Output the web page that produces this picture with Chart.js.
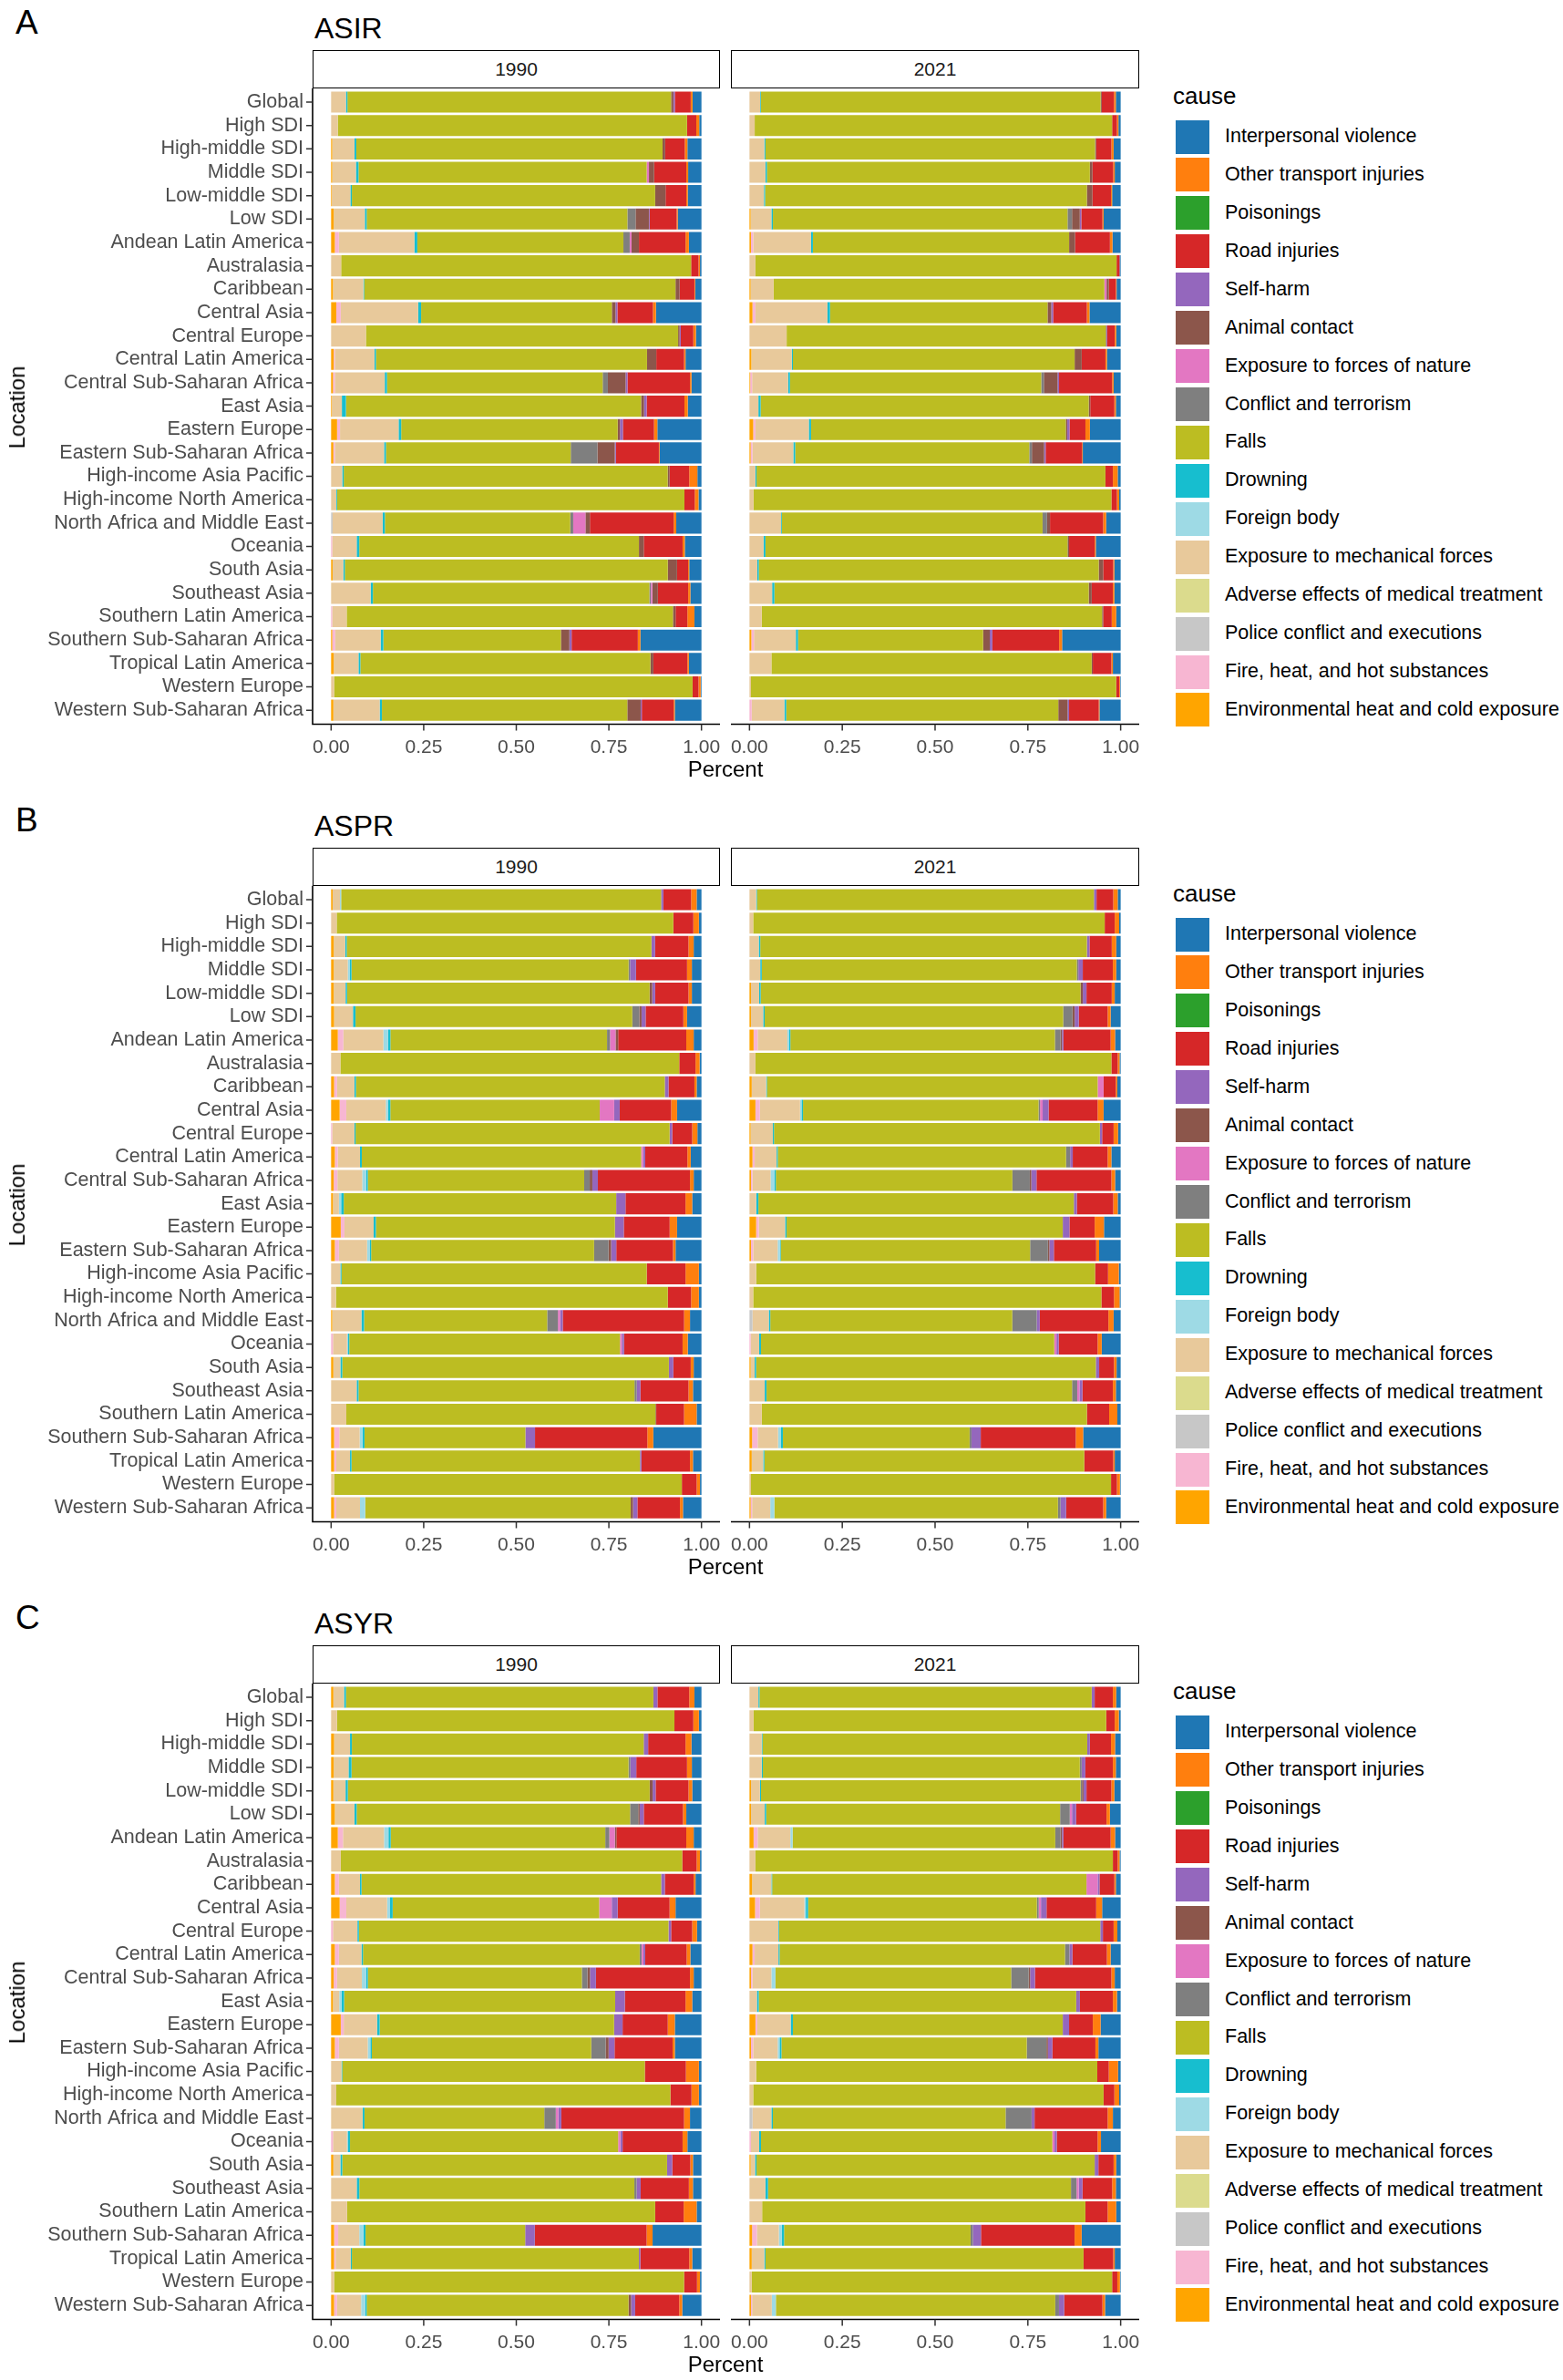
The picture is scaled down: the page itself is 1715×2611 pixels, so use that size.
<!DOCTYPE html>
<html>
<head>
<meta charset="utf-8">
<script src="https://cdn.jsdelivr.net/npm/chart.js@4.4.1/dist/chart.umd.min.js"></script>
<style>
  body { margin: 0; background: #fff; font-family: "Liberation Sans", Arial, sans-serif; }
  #figure { position: relative; width: 1715px; height: 2611px; overflow: hidden; background: #fff; }
  .abs { position: absolute; }
  .tag { font-size: 37px; line-height: 1; color: #000; }
  .title { font-size: 32px; line-height: 1; color: #000; }
  .strip { border: 1.6px solid #000; box-sizing: border-box; background: #fff;
           display: flex; align-items: center; justify-content: center; font-size: 21px; color: #1a1a1a; }
  .axis-title { font-size: 24px; line-height: 1; color: #000; white-space: nowrap; }
  .legend-title { font-size: 26px; line-height: 1; color: #000; }
  .key { width: 37px; height: 37px; }
  .key-label { font-size: 21.5px; line-height: 1; color: #000; white-space: nowrap; }
</style>
</head>
<body>
<div id="figure"></div>
<script>
const FONT = '"Liberation Sans", Arial, sans-serif';

// legend order (top to bottom); bars stack in the reverse order, left to right
const causes = [
    'Interpersonal violence',
    'Other transport injuries',
    'Poisonings',
    'Road injuries',
    'Self-harm',
    'Animal contact',
    'Exposure to forces of nature',
    'Conflict and terrorism',
    'Falls',
    'Drowning',
    'Foreign body',
    'Exposure to mechanical forces',
    'Adverse effects of medical treatment',
    'Police conflict and executions',
    'Fire, heat, and hot substances',
    'Environmental heat and cold exposure'
];
const causeColors = [
    '#1F77B4', '#FF7F0E', '#2CA02C', '#D62728', '#9467BD', '#8C564B', '#E377C2', '#7F7F7F',
    '#BCBD22', '#17BECF', '#9EDAE5', '#E8C99B', '#DBDB8D', '#C7C7C7', '#F7B6D2', '#FFA500'
];

const locations = [
    'Global', 'High SDI', 'High-middle SDI', 'Middle SDI', 'Low-middle SDI', 'Low SDI',
    'Andean Latin America', 'Australasia', 'Caribbean', 'Central Asia', 'Central Europe',
    'Central Latin America', 'Central Sub-Saharan Africa', 'East Asia', 'Eastern Europe',
    'Eastern Sub-Saharan Africa', 'High-income Asia Pacific', 'High-income North America',
    'North Africa and Middle East', 'Oceania', 'South Asia', 'Southeast Asia',
    'Southern Latin America', 'Southern Sub-Saharan Africa', 'Tropical Latin America',
    'Western Europe', 'Western Sub-Saharan Africa'
];

const years = ['1990', '2021'];
const panelTags = ['A', 'B', 'C'];
const panelTitles = ['ASIR', 'ASPR', 'ASYR'];
const xTicks = [0, 0.25, 0.5, 0.75, 1];

// one row per location; columns from the left end of the bar:
// env heat, fire, police, adverse, mechanical, foreign body, drowning, falls,
// conflict, nature, animal, self-harm, road, poisonings, other transport, interpersonal
const asir1990 = [
    [0, 0, 0, 0, .040, 0, .004, .874, 0, 0, .006, .004, .043, 0, .005, .024],
    [0, 0, 0, 0, .018, 0, 0, .943, 0, 0, 0, 0, .025, 0, .008, .006],
    [.003, 0, 0, 0, .060, 0, .005, .827, 0, 0, .007, 0, .053, 0, .007, .038],
    [.003, 0, 0, 0, .064, 0, .007, .779, 0, .006, .014, 0, .087, 0, .005, .036],
    [.002, 0, 0, 0, .050, 0, .004, .819, 0, 0, .028, 0, .056, 0, .004, .037],
    [.007, 0, 0, 0, .084, 0, .005, .704, .022, 0, .036, .002, .073, 0, .003, .064],
    [.010, .011, 0, 0, .204, 0, .008, .557, .017, .005, .020, 0, .126, 0, .009, .034],
    [0, 0, 0, 0, .027, 0, 0, .945, 0, 0, 0, 0, .020, 0, .004, .004],
    [.005, 0, 0, 0, .082, 0, .002, .840, 0, 0, .011, 0, .040, 0, .002, .017],
    [.014, .012, 0, 0, .209, 0, .008, .515, 0, 0, .010, .005, .096, 0, .008, .123],
    [0, 0, 0, 0, .094, 0, 0, .843, 0, 0, .004, .003, .034, 0, .007, .015],
    [.007, .003, 0, 0, .107, 0, .004, .732, 0, 0, .025, 0, .075, 0, .004, .043],
    [.005, .005, 0, 0, .135, 0, .006, .583, .014, 0, .048, .005, .169, 0, .004, .027],
    [.002, 0, 0, 0, .027, 0, .011, .797, 0, 0, .008, .007, .102, 0, .009, .037],
    [.016, .008, 0, 0, .158, 0, .007, .584, 0, 0, .006, .008, .084, 0, .009, .119],
    [.006, .004, 0, 0, .133, 0, .005, .499, .072, 0, .047, .003, .116, 0, .002, .113],
    [0, 0, 0, 0, .030, 0, .004, .874, 0, 0, .005, 0, .053, 0, .022, .011],
    [0, 0, 0, 0, .014, 0, .002, .938, 0, 0, 0, 0, .028, 0, .010, .008],
    [0, 0, .004, 0, .135, 0, .006, .500, .008, .033, .012, 0, .226, 0, .007, .068],
    [0, .003, 0, 0, .066, 0, .007, .756, 0, 0, .013, 0, .105, 0, .006, .045],
    [.004, 0, 0, 0, .029, 0, .004, .873, 0, 0, .025, 0, .030, 0, .003, .033],
    [0, 0, 0, 0, .107, 0, .006, .748, .004, .004, .015, 0, .082, 0, .006, .030],
    [0, .003, 0, 0, .039, 0, 0, .881, 0, 0, .007, 0, .032, 0, .019, .019],
    [.003, .008, 0, 0, .123, 0, .007, .480, 0, 0, .023, .006, .179, 0, .007, .165],
    [.007, 0, 0, 0, .067, 0, .005, .784, 0, 0, .008, 0, .092, 0, .004, .034],
    [0, 0, 0, 0, .008, 0, 0, .967, 0, 0, 0, 0, .016, 0, .006, .002],
    [.006, 0, 0, 0, .125, 0, .006, .662, 0, 0, .036, .003, .086, 0, .003, .072]
];
const asir2021 = [
    [0, 0, 0, 0, .029, 0, .002, .915, 0, 0, .003, 0, .033, 0, .005, .013],
    [0, 0, 0, 0, .014, 0, 0, .963, 0, 0, 0, 0, .013, 0, .004, .006],
    [0, 0, 0, 0, .040, 0, .003, .888, 0, 0, .003, 0, .041, 0, .006, .019],
    [0, 0, 0, 0, .043, 0, .004, .870, 0, 0, .007, 0, .056, 0, .004, .016],
    [0, 0, 0, 0, .039, 0, .003, .866, 0, 0, .015, 0, .050, 0, .003, .023],
    [.003, 0, 0, 0, .056, 0, .004, .793, .012, 0, .021, .004, .057, 0, .003, .046],
    [.004, .006, 0, 0, .156, 0, .005, .691, 0, 0, .016, 0, .094, 0, .007, .022],
    [0, 0, 0, 0, .016, 0, 0, .973, 0, 0, 0, 0, .008, 0, 0, .003],
    [.003, 0, 0, 0, .062, 0, 0, .892, 0, .006, .006, 0, .019, 0, .002, .011],
    [.008, .008, 0, 0, .194, 0, .007, .586, 0, 0, .010, .005, .091, 0, .007, .084],
    [0, 0, 0, 0, .100, 0, 0, .859, 0, 0, .002, .002, .020, 0, .004, .012],
    [.005, 0, 0, 0, .109, 0, .003, .759, 0, 0, .019, 0, .064, 0, .004, .037],
    [.002, .005, 0, 0, .097, 0, .005, .677, .007, 0, .037, .004, .143, 0, .004, .019],
    [0, 0, 0, 0, .024, 0, .006, .884, 0, 0, .004, 0, .065, 0, .004, .013],
    [.010, .006, 0, 0, .144, 0, .006, .687, 0, 0, .004, .006, .043, 0, .012, .083],
    [.003, .005, 0, 0, .110, 0, .005, .630, .007, 0, .033, .004, .098, 0, .002, .102],
    [0, 0, 0, 0, .016, 0, .003, .939, 0, 0, 0, 0, .020, 0, .013, .008],
    [0, 0, 0, 0, .011, 0, 0, .964, 0, 0, 0, 0, .015, 0, .006, .004],
    [0, 0, 0, 0, .085, 0, .002, .701, .012, 0, .008, 0, .143, 0, .008, .039],
    [0, 0, 0, 0, .038, 0, .005, .814, 0, 0, .004, 0, .069, 0, .003, .067],
    [0, 0, 0, 0, .021, 0, .004, .915, 0, 0, .012, 0, .027, 0, .003, .017],
    [0, 0, 0, 0, .061, 0, .006, .847, 0, 0, .008, 0, .057, 0, .004, .017],
    [0, 0, 0, 0, .033, 0, 0, .916, 0, 0, .003, 0, .023, 0, .012, .012],
    [.005, .007, 0, 0, .113, 0, .006, .499, 0, 0, .018, .007, .180, 0, .008, .158],
    [0, 0, 0, 0, .059, 0, 0, .862, 0, 0, .003, 0, .050, 0, .004, .021],
    [0, 0, 0, 0, .004, 0, 0, .983, 0, 0, 0, 0, .008, 0, .002, .002],
    [0, .006, 0, 0, .088, 0, .005, .733, 0, 0, .025, .004, .080, 0, .002, .057]
];
const aspr1990 = [
    [.004, 0, 0, 0, .020, .003, 0, .864, 0, 0, 0, .006, .075, 0, .015, .013],
    [0, 0, 0, 0, .015, 0, 0, .909, 0, 0, 0, 0, .054, 0, .015, .007],
    [.007, 0, 0, 0, .031, 0, .004, .822, 0, 0, 0, .010, .090, 0, .014, .021],
    [.007, 0, 0, 0, .038, .005, .005, .749, .004, 0, 0, .016, .138, 0, .013, .026],
    [.007, 0, 0, 0, .032, 0, .004, .817, 0, 0, .007, .008, .090, 0, .009, .026],
    [.008, 0, 0, 0, .051, 0, .007, .748, .019, 0, .006, .011, .102, 0, .010, .039],
    [.018, .015, 0, 0, .108, .013, .006, .585, .008, .015, .007, 0, .184, 0, .020, .021],
    [0, 0, 0, 0, .025, 0, 0, .915, 0, 0, 0, 0, .044, 0, .011, .005],
    [.008, .008, 0, 0, .047, 0, .004, .834, 0, 0, 0, .010, .070, 0, .006, .013],
    [.023, .018, 0, 0, .107, .006, .006, .566, 0, .039, 0, .015, .139, 0, .016, .066],
    [0, .003, 0, 0, .060, 0, .003, .848, 0, 0, 0, .007, .054, 0, .014, .011],
    [.010, .008, 0, 0, .060, 0, .005, .755, 0, .005, 0, .006, .114, 0, .009, .029],
    [.007, .010, 0, 0, .067, .011, .004, .585, .015, 0, .007, .015, .249, 0, .010, .021],
    [.005, 0, 0, 0, .016, .006, .007, .735, 0, 0, 0, .025, .162, 0, .018, .025],
    [.026, .010, 0, 0, .079, 0, .006, .646, 0, 0, 0, .024, .124, 0, .020, .066],
    [.010, .011, 0, 0, .076, .008, .003, .602, .039, 0, .007, .014, .153, 0, .007, .070],
    [0, 0, 0, 0, .025, 0, .003, .825, 0, 0, 0, 0, .105, 0, .036, .007],
    [0, 0, 0, 0, .013, 0, 0, .896, 0, 0, 0, 0, .063, 0, .021, .007],
    [.003, 0, 0, 0, .079, 0, .007, .495, .029, .006, 0, .007, .328, 0, .016, .031],
    [0, .005, 0, 0, .038, .003, .003, .731, 0, .005, 0, .006, .158, 0, .014, .037],
    [.006, 0, 0, 0, .019, 0, .005, .882, 0, 0, 0, .012, .047, 0, .008, .021],
    [0, 0, 0, 0, .069, 0, .005, .746, .006, 0, 0, .010, .130, 0, .012, .023],
    [0, 0, 0, 0, .041, 0, 0, .834, 0, 0, .002, 0, .075, 0, .034, .013],
    [.008, .014, 0, 0, .055, .008, .005, .434, 0, 0, 0, .026, .303, 0, .016, .130],
    [.008, .006, 0, 0, .037, 0, .004, .779, 0, 0, 0, .004, .131, 0, .008, .023],
    [0, 0, 0, 0, .008, 0, 0, .939, 0, 0, 0, 0, .040, 0, .009, .004],
    [.008, .006, 0, 0, .064, .014, 0, .717, 0, 0, .006, .012, .115, 0, .008, .050]
];
const aspr2021 = [
    [0, 0, 0, 0, .018, 0, .002, .907, 0, 0, 0, .007, .045, 0, .012, .008],
    [0, 0, 0, 0, .010, 0, 0, .947, 0, 0, 0, 0, .027, 0, .012, .004],
    [0, 0, 0, 0, .025, 0, .004, .880, 0, 0, 0, .007, .060, 0, .012, .012],
    [0, 0, 0, 0, .029, 0, .004, .848, .004, 0, 0, .012, .081, 0, .009, .012],
    [.004, 0, 0, 0, .022, 0, .004, .861, 0, 0, .006, .010, .068, 0, .008, .016],
    [.004, 0, 0, 0, .033, 0, .004, .805, .025, 0, .006, .011, .078, 0, .008, .027],
    [.011, .011, 0, 0, .080, .004, .004, .712, .015, 0, .004, .004, .127, 0, .012, .015],
    [0, 0, 0, 0, .016, 0, 0, .958, 0, 0, 0, 0, .017, 0, .005, .003],
    [.006, 0, 0, 0, .039, 0, .002, .892, 0, .016, 0, 0, .033, 0, .004, .009],
    [.016, .012, 0, 0, .108, .004, .004, .634, .004, .007, 0, .016, .132, 0, .016, .046],
    [.003, 0, 0, 0, .060, 0, .003, .878, 0, 0, 0, .006, .031, 0, .012, .007],
    [.008, .006, 0, 0, .059, 0, .003, .776, .011, 0, 0, .007, .094, 0, .010, .025],
    [.004, .004, 0, 0, .049, .010, .004, .638, .047, 0, .004, .014, .202, 0, .010, .015],
    [0, 0, 0, 0, .018, 0, .006, .849, 0, 0, 0, .008, .098, 0, .012, .008],
    [.018, .007, 0, 0, .071, 0, .004, .744, 0, 0, 0, .018, .068, 0, .025, .045],
    [.004, .006, 0, 0, .066, .006, .002, .672, .048, 0, .004, .012, .114, 0, .008, .058],
    [0, 0, 0, 0, .018, 0, 0, .913, 0, 0, 0, 0, .035, 0, .029, .005],
    [0, 0, 0, 0, .010, 0, 0, .939, 0, 0, 0, 0, .034, 0, .015, .003],
    [0, 0, .008, 0, .044, 0, .004, .652, .066, 0, 0, .008, .185, 0, .014, .019],
    [0, .003, 0, 0, .023, 0, .005, .790, 0, .006, 0, .006, .105, 0, .011, .051],
    [.003, 0, 0, 0, .011, 0, .004, .916, 0, 0, 0, .009, .040, 0, .007, .011],
    [0, 0, 0, 0, .041, 0, .005, .823, .014, .006, 0, .008, .082, 0, .008, .013],
    [0, 0, 0, 0, .033, 0, 0, .876, 0, 0, 0, 0, .060, 0, .022, .009],
    [.007, .015, 0, 0, .055, .008, .005, .503, .005, 0, 0, .025, .256, 0, .020, .101],
    [.006, 0, 0, 0, .031, 0, .003, .861, 0, 0, 0, 0, .078, 0, .004, .016],
    [0, 0, 0, 0, .004, 0, 0, .973, 0, 0, 0, 0, .016, 0, .008, .002],
    [.003, .004, 0, 0, .049, .011, 0, .764, .007, 0, 0, .015, .100, 0, .008, .039]
];
const asyr1990 = [
    [.006, 0, 0, 0, .029, 0, .005, .831, 0, 0, 0, .011, .086, 0, .014, .019],
    [0, 0, 0, 0, .016, 0, 0, .911, 0, 0, 0, 0, .051, 0, .015, .007],
    [.008, 0, 0, 0, .043, 0, .005, .788, 0, 0, 0, .012, .101, 0, .016, .027],
    [.007, 0, 0, 0, .040, 0, .008, .748, .005, 0, 0, .016, .137, 0, .013, .026],
    [.006, 0, 0, 0, .033, 0, .006, .816, 0, 0, .008, .008, .089, 0, .010, .025],
    [.010, 0, 0, 0, .053, 0, .006, .739, .022, 0, .004, .011, .106, 0, .009, .041],
    [.018, .014, 0, 0, .111, .012, .006, .580, .011, .015, .004, 0, .189, 0, .020, .021],
    [0, 0, 0, 0, .026, 0, 0, .922, 0, 0, 0, 0, .039, 0, .009, .004],
    [.010, .011, 0, 0, .057, 0, .004, .809, 0, 0, 0, .010, .078, 0, .005, .016],
    [.023, .018, 0, 0, .110, .008, .007, .557, 0, .034, 0, .016, .140, 0, .016, .070],
    [0, .005, 0, 0, .066, 0, .004, .836, 0, 0, 0, .007, .057, 0, .013, .012],
    [.010, .011, 0, 0, .061, 0, .004, .748, .005, .005, 0, .005, .112, 0, .010, .030],
    [.007, .009, 0, 0, .067, .012, .004, .578, .015, 0, .007, .016, .254, 0, .010, .021],
    [.005, 0, 0, 0, .017, .006, .007, .732, 0, 0, 0, .026, .164, 0, .018, .025],
    [.026, .008, 0, 0, .090, 0, .007, .633, 0, 0, 0, .023, .122, 0, .019, .072],
    [.010, .011, 0, 0, .078, .007, .004, .593, .039, 0, .008, .016, .157, 0, .006, .072],
    [0, 0, 0, 0, .028, 0, .002, .817, 0, 0, 0, 0, .111, 0, .035, .007],
    [0, 0, 0, 0, .014, 0, 0, .903, 0, 0, 0, 0, .057, 0, .020, .007],
    [0, 0, 0, 0, .085, 0, .005, .485, .031, .007, 0, .008, .331, 0, .016, .031],
    [0, .005, 0, 0, .038, .003, .005, .724, 0, .006, 0, .006, .162, 0, .013, .038],
    [.006, 0, 0, 0, .019, 0, .005, .878, 0, 0, 0, .014, .049, 0, .007, .023],
    [0, 0, 0, 0, .069, 0, .007, .742, .006, 0, 0, .011, .130, 0, .011, .023],
    [0, 0, 0, 0, .043, 0, 0, .832, 0, 0, 0, 0, .077, 0, .035, .013],
    [.008, .011, 0, 0, .057, .011, .006, .431, 0, 0, 0, .026, .302, 0, .016, .132],
    [.008, .004, 0, 0, .041, 0, .003, .775, 0, 0, 0, .004, .132, 0, .008, .025],
    [0, 0, 0, 0, .008, 0, 0, .944, 0, 0, 0, 0, .035, 0, .008, .004],
    [.008, .008, 0, 0, .065, .011, .004, .707, 0, 0, .007, .011, .119, 0, .008, .052]
];
const asyr2021 = [
    [0, 0, 0, 0, .024, 0, .003, .894, 0, 0, 0, .008, .049, 0, .009, .012],
    [0, 0, 0, 0, .011, 0, 0, .949, 0, 0, 0, 0, .023, 0, .011, .005],
    [0, 0, 0, 0, .033, 0, .002, .875, 0, 0, 0, .007, .057, 0, .011, .015],
    [0, 0, 0, 0, .033, 0, .003, .853, .005, 0, 0, .010, .074, 0, .008, .013],
    [.004, 0, 0, 0, .024, 0, .003, .860, .004, 0, .004, .008, .067, 0, .008, .017],
    [.004, 0, 0, 0, .037, 0, .004, .791, .026, .006, 0, .011, .082, 0, .009, .029],
    [.011, .011, 0, 0, .088, .006, 0, .707, .014, 0, .004, .004, .127, 0, .012, .015],
    [0, 0, 0, 0, .016, 0, 0, .962, 0, 0, 0, 0, .013, 0, .005, .003],
    [.007, 0, 0, 0, .052, 0, .002, .846, 0, .030, 0, .005, .040, 0, .004, .013],
    [.015, .013, 0, 0, .120, .004, .006, .617, .005, .006, 0, .015, .134, 0, .016, .050],
    [0, 0, 0, 0, .078, 0, .002, .866, 0, 0, 0, .007, .029, 0, .010, .009],
    [.008, .006, 0, 0, .064, 0, .003, .769, .012, 0, 0, .008, .093, 0, .010, .027],
    [.004, .004, 0, 0, .051, .011, 0, .635, .047, 0, .004, .013, .206, 0, .009, .016],
    [0, 0, 0, 0, .020, 0, .005, .857, 0, 0, 0, .010, .089, 0, .011, .010],
    [.016, .005, 0, 0, .090, 0, .006, .727, 0, 0, 0, .017, .064, 0, .021, .054],
    [.004, .006, 0, 0, .066, .005, .005, .661, .053, 0, .004, .012, .116, 0, .008, .060],
    [0, 0, 0, 0, .018, 0, 0, .920, 0, 0, 0, 0, .031, 0, .025, .007],
    [0, 0, 0, 0, .010, 0, 0, .944, 0, 0, 0, 0, .029, 0, .013, .004],
    [0, 0, .008, 0, .051, 0, .004, .627, .070, 0, 0, .008, .197, 0, .014, .021],
    [0, .004, 0, 0, .022, 0, .005, .784, 0, .006, 0, .006, .110, 0, .009, .053],
    [.003, 0, 0, 0, .012, 0, .004, .911, 0, 0, 0, .010, .041, 0, .007, .012],
    [0, 0, 0, 0, .043, 0, .007, .817, .015, .006, 0, .010, .080, 0, .010, .013],
    [0, 0, 0, 0, .034, 0, 0, .870, 0, 0, 0, 0, .060, 0, .023, .012],
    [.007, .013, 0, 0, .059, .008, .006, .502, .006, 0, 0, .022, .252, 0, .019, .105],
    [.006, 0, 0, 0, .034, 0, .003, .857, 0, 0, 0, 0, .080, 0, .004, .016],
    [0, 0, 0, 0, .006, 0, 0, .971, 0, 0, 0, 0, .014, 0, .007, .002],
    [.004, .003, 0, 0, .053, .011, 0, .752, .010, 0, 0, .014, .103, 0, .007, .042]
];

const panelData = [[asir1990, asir2021], [aspr1990, aspr2021], [asyr1990, asyr2021]];

// Layout (pixels, relative to each panel's top)
const PANEL_STEP = 875;
const FACET_LEFT = [0, 802];      // canvas left of each facet
const FACET_WIDTH = [790, 448];
const Y_AXIS_WIDTH = 343;
const CANVAS_TOP = 96;
const CANVAS_HEIGHT = 746;

const fig = document.getElementById('figure');

function addDiv(cls, text, style) {
    const d = document.createElement('div');
    d.className = 'abs ' + cls;
    if (text !== null) d.textContent = text;
    Object.assign(d.style, style);
    fig.appendChild(d);
    return d;
}

// Build stacked datasets, each row normalised to a share of 1
function buildDatasets(rows) {
    const totals = rows.map(r => r.reduce((a, b) => a + b, 0));
    const stackOrder = causes.slice().reverse();
    return stackOrder.map((cause, j) => ({
        label: cause,
        data: rows.map((r, i) => r[j] / totals[i]),
        backgroundColor: causeColors[causes.indexOf(cause)],
        borderWidth: 0,
        barPercentage: 0.9,
        categoryPercentage: 1
    }));
}

// ggplot-style axis lines (panel reaches 0.1 band beyond the outer bars)
function axisLines(showY) {
    return {
        id: 'axisLines',
        afterDraw(chart) {
            const { ctx, chartArea: a, scales } = chart;
            const ext = a.height / locations.length * 0.1;
            const yb = a.bottom + ext;
            ctx.save();
            ctx.strokeStyle = '#000';
            ctx.lineWidth = 1.6;
            ctx.beginPath();
            ctx.moveTo(a.left - (showY ? 0.8 : 0), yb);
            ctx.lineTo(a.right, yb);
            if (showY) {
                ctx.moveTo(a.left, a.top - ext);
                ctx.lineTo(a.left, yb + 0.8);
            }
            ctx.stroke();
            ctx.strokeStyle = '#333';
            ctx.lineWidth = 1.5;
            ctx.beginPath();
            xTicks.forEach(v => {
                const x = scales.x.getPixelForValue(v);
                ctx.moveTo(x, yb);
                ctx.lineTo(x, yb + 7);
            });
            if (showY) {
                locations.forEach((loc, i) => {
                    const y = scales.y.getPixelForValue(i);
                    ctx.moveTo(a.left, y);
                    ctx.lineTo(a.left - 7, y);
                });
            }
            ctx.stroke();
            ctx.restore();
        }
    };
}

function createFacet(rows, top, f) {
    const showY = f === 0;
    const canvas = document.createElement('canvas');
    canvas.className = 'abs';
    canvas.width = FACET_WIDTH[f];
    canvas.height = CANVAS_HEIGHT;
    Object.assign(canvas.style, {
        left: FACET_LEFT[f] + 'px', top: (top + CANVAS_TOP) + 'px',
        width: FACET_WIDTH[f] + 'px', height: CANVAS_HEIGHT + 'px'
    });
    fig.appendChild(canvas);

    new Chart(canvas.getContext('2d'), {
        type: 'bar',
        data: { labels: locations, datasets: buildDatasets(rows) },
        options: {
            indexAxis: 'y',
            responsive: false,
            animation: false,
            devicePixelRatio: 1,
            layout: { padding: { top: 3.2, bottom: 0, left: 0, right: 0 } },
            plugins: { legend: { display: false }, tooltip: { enabled: false } },
            scales: {
                x: {
                    type: 'linear',
                    stacked: true,
                    min: -0.05,
                    max: 1.05,
                    afterBuildTicks: s => { s.ticks = xTicks.map(v => ({ value: v })); },
                    afterFit: s => { s.height = 50; s.paddingLeft = 0; s.paddingRight = 0; },
                    grid: { display: false, drawTicks: false },
                    border: { display: false },
                    ticks: {
                        padding: 16,
                        color: '#4d4d4d',
                        font: { size: 21, family: FONT },
                        maxRotation: 0,
                        autoSkip: false,
                        callback: v => Number(v).toFixed(2)
                    }
                },
                y: {
                    type: 'category',
                    stacked: true,
                    offset: true,
                    display: showY,
                    afterFit: s => {
                        if (showY) s.width = Y_AXIS_WIDTH;
                        s.paddingTop = 0;
                        s.paddingBottom = 0;
                    },
                    grid: { display: false, drawTicks: false },
                    border: { display: false },
                    ticks: {
                        padding: 10,
                        color: '#4d4d4d',
                        font: { size: 21.5, family: FONT },
                        autoSkip: false
                    }
                }
            }
        },
        plugins: [axisLines(showY)]
    });
}

function createPanel(p) {
    const top = p * PANEL_STEP;

    addDiv('tag', panelTags[p], { left: '17px', top: (top + 6) + 'px' });
    addDiv('title', panelTitles[p], { left: '345px', top: (top + 15) + 'px' });

    years.forEach((yr, f) => {
        const panelLeft = f === 0 ? Y_AXIS_WIDTH : FACET_LEFT[f];
        const panelRight = FACET_LEFT[f] + FACET_WIDTH[f];
        addDiv('strip', yr, {
            left: panelLeft + 'px', top: (top + 55) + 'px',
            width: (panelRight - panelLeft) + 'px', height: '42px'
        });
        createFacet(panelData[p][f], top, f);
    });

    addDiv('axis-title', 'Percent', {
        left: '796px', top: (top + 844) + 'px', transform: 'translate(-50%, -50%)'
    });
    addDiv('axis-title', 'Location', {
        left: '19px', top: (top + 447) + 'px', transform: 'translate(-50%, -50%) rotate(-90deg)'
    });

    // Legend
    addDiv('legend-title', 'cause', { left: '1287px', top: (top + 105) + 'px', transform: 'translateY(-50%)' });
    causes.forEach((cause, i) => {
        const cy = top + 150 + i * 41.93;
        addDiv('key', null, { left: '1290px', top: (cy - 18.5) + 'px', background: causeColors[i] });
        addDiv('key-label', cause, { left: '1344px', top: cy + 'px', transform: 'translateY(-50%)' });
    });
}

panelTags.forEach((t, p) => createPanel(p));
</script>
</body>
</html>
